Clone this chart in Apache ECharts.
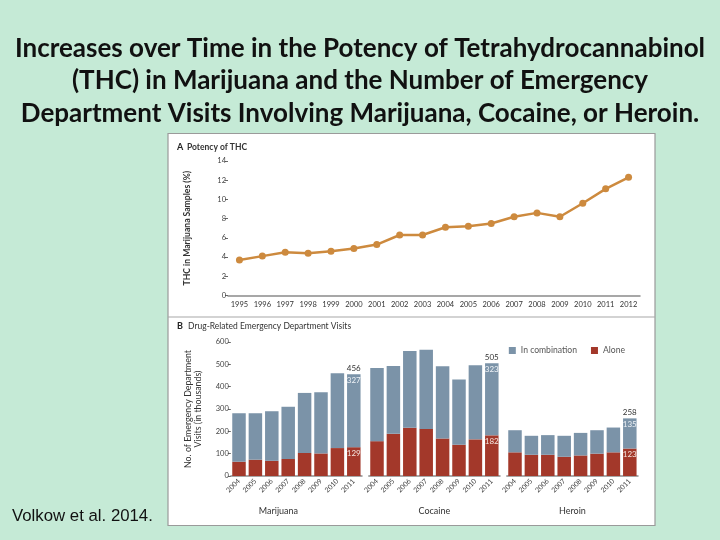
<!DOCTYPE html>
<html><head><meta charset="utf-8">
<script src="https://cdn.jsdelivr.net/npm/echarts@6/dist/echarts.min.js"></script>
<style>html,body{margin:0;padding:0;background:#c5ead6;}#c{width:720px;height:540px;}</style>
</head><body><div id="c"></div>
<script>
const thcYears = ['1995','1996','1997','1998','1999','2000','2001','2002','2003','2004','2005','2006','2007','2008','2009','2010','2011','2012'];
const thcValues = [3.7,4.1,4.5,4.4,4.6,4.9,5.3,6.3,6.3,7.1,7.2,7.5,8.2,8.6,8.2,9.6,11.1,12.3];
const visitYears = ['2004','2005','2006','2007','2008','2009','2010','2011'];
const drugs = ['Marijuana','Cocaine','Heroin'];
const marijuanaComb = [217,208,222,234,269,274,335,327];
const marijuanaAlone = [64,73,68,76,103,101,125,129];
const cocaineComb = [328,304,344,354,323,292,332,323];
const cocaineAlone = [156,189,216,211,168,140,164,182];
const heroinComb = [99,85,88,94,101,105,111,135];
const heroinAlone = [106,95,95,86,92,100,106,123];
const yTicksA = [0,2,4,6,8,10,12,14];
const yTicksB = [0,100,200,300,400,500,600];

const combs = [marijuanaComb, cocaineComb, heroinComb];
const alones = [marijuanaAlone, cocaineAlone, heroinAlone];
const FONT = 'Lato';
const BLUE = '#7b93a8', RED = '#a3382a', ORANGE = '#cd8a3e';
const last = visitYears.length - 1;

const chart = echarts.init(document.getElementById('c'));
const grids = [{left:228, right:80, top:161, bottom:244.5}];
const xAxes = [{
  gridIndex:0, type:'category', data:thcYears, boundaryGap:true,
  axisLine:{lineStyle:{color:'#8a8a8a', width:1.5}},
  axisTick:{alignWithLabel:true, length:3, lineStyle:{color:'#8a8a8a'}},
  axisLabel:{fontFamily:FONT, fontSize:7.5, color:'#333', margin:5}
}];
const yAxes = [{
  gridIndex:0, type:'value', min:0, max:14, interval:2,
  name:'THC in Marijuana Samples (%)', nameLocation:'middle', nameGap:36,
  nameTextStyle:{fontFamily:FONT, fontSize:8.6, fontWeight:'bold', color:'#333'},
  axisLine:{show:false}, splitLine:{show:false},
  axisTick:{show:true, length:3, lineStyle:{color:'#666'}},
  axisLabel:{fontFamily:FONT, fontSize:7.5, color:'#444', margin:2}
}];
const series = [{
  type:'line', xAxisIndex:0, yAxisIndex:0, data:thcValues,
  symbol:'circle', symbolSize:7, lineStyle:{color:ORANGE, width:2.5},
  itemStyle:{color:ORANGE}
}];
const pitch = 16.4;
const lefts = [230.8, 368.8, 506.8];
drugs.forEach((d, g) => {
  const gi = g + 1;
  grids.push({left:lefts[g], width:pitch*8, top:342, bottom:64});
  xAxes.push({
    gridIndex:gi, type:'category', data:visitYears,
    name:d, nameLocation:'middle', nameGap:31,
    nameTextStyle:{fontFamily:FONT, fontSize:9, color:'#333', padding: g===0 ? [0,36,0,0] : 0},
    axisLine:{lineStyle:{color:'#8a8a8a', width:1.5}},
    axisTick:{alignWithLabel:true, length:3, lineStyle:{color:'#8a8a8a'}},
    axisLabel:{fontFamily:FONT, fontSize:7, color:'#444', rotate:45, margin:4, interval:0}
  });
  yAxes.push({
    gridIndex:gi, type:'value', min:0, max:600, interval:100, show: g===0,
    name: g===0 ? 'No. of Emergency Department\nVisits (in thousands)' : '',
    nameLocation:'middle', nameGap:28,
    nameTextStyle:{fontFamily:FONT, fontSize:8.8, color:'#333', lineHeight:9.5},
    axisLine:{show:false}, splitLine:{show:false},
    axisTick:{show:true, length:3, lineStyle:{color:'#666'}},
    axisLabel:{fontFamily:FONT, fontSize:7.5, color:'#444', margin:2}
  });
  const lbl = (col) => ({show:true, position:'insideTop', distance:2, fontFamily:FONT, fontSize:8, color:col,
    formatter: p => p.dataIndex === last ? String(p.value) : ''});
  series.push({
    name:'Alone', type:'bar', stack:'s'+g, xAxisIndex:gi, yAxisIndex:gi, data:alones[g],
    barWidth:13.5, itemStyle:{color:RED}, label:lbl('#f4e6e0')
  });
  series.push({
    name:'In combination', type:'bar', stack:'s'+g, xAxisIndex:gi, yAxisIndex:gi, data:combs[g],
    barWidth:13.5, itemStyle:{color:BLUE}, label:lbl('#eef2f6')
  });
  series.push({
    name:'Total', type:'bar', stack:'s'+g, xAxisIndex:gi, yAxisIndex:gi,
    data:visitYears.map(() => 0), barWidth:13.5, itemStyle:{color:'transparent'},
    label:{show:true, position:'top', distance:2, fontFamily:FONT, fontSize:8, color:'#333',
      formatter: p => p.dataIndex === last ? String(alones[g][last] + combs[g][last]) : ''}
  });
});

chart.setOption({
  animation:false,
  backgroundColor:'#c5ead6',
  title:{
    text:'Increases over Time in the Potency of Tetrahydrocannabinol\n(THC) in Marijuana and the Number of Emergency\nDepartment Visits Involving Marijuana, Cocaine, or Heroin.',
    left:'center', top:27,
    textStyle:{fontFamily:FONT, fontWeight:'bold', fontSize:26, color:'#111', lineHeight:32.5}
  },
  graphic:[
    {type:'rect', z:-1, shape:{x:168, y:133.5, width:487, height:392}, style:{fill:'#fff', stroke:'#9a9a9a', lineWidth:1.2}},
    {type:'line', z:-1, shape:{x1:168, y1:317, x2:655, y2:317}, style:{stroke:'#a8a8a8', lineWidth:1.2}},
    {type:'text', left:177, top:143, style:{text:'A', fontFamily:FONT, fontSize:9, fontWeight:'bold', fill:'#222'}},
    {type:'text', left:187, top:143, style:{text:'Potency of THC', fontFamily:FONT, fontSize:8.5, fontWeight:'bold', fill:'#333'}},
    {type:'text', left:177, top:322, style:{text:'B', fontFamily:FONT, fontSize:9, fontWeight:'bold', fill:'#222'}},
    {type:'text', left:188, top:322, style:{text:'Drug-Related Emergency Department Visits', fontFamily:FONT, fontSize:8.5, fill:'#333'}},
    {type:'text', left:12, top:508, style:{text:'Volkow et al. 2014.', fontFamily:'Liberation Sans', fontSize:16.8, fill:'#111'}}
  ],
  legend:{
    data:['In combination','Alone'], right:90, top:341, itemWidth:7, itemHeight:7, itemGap:14,
    icon:'rect', textStyle:{fontFamily:FONT, fontSize:8.6, color:'#555'}
  },
  grid:grids, xAxis:xAxes, yAxis:yAxes, series:series
});
</script></body></html>
